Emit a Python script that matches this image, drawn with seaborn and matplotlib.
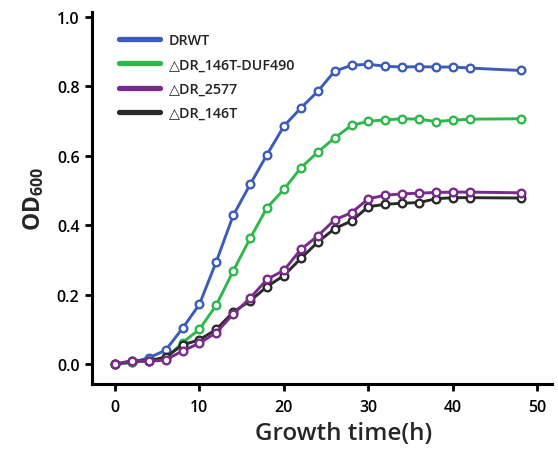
import matplotlib
matplotlib.use("Agg")
import matplotlib.pyplot as plt
from matplotlib.lines import Line2D
import numpy as np
import pandas as pd
import seaborn as sns

# tempos de medida (h)
hours = [0, 2, 4, 6, 8, 10, 12, 14, 16, 18, 20, 22, 24, 26, 28, 30, 32, 34, 36, 38, 40, 42, 48]

# OD600 de cada linhagem
drwt = [0.0, 0.005, 0.018, 0.04, 0.103, 0.172, 0.295, 0.428, 0.517, 0.603, 0.685, 0.737,
        0.785, 0.843, 0.860, 0.863, 0.857, 0.855, 0.856, 0.855, 0.855, 0.852, 0.845]
duf490 = [0.0, 0.005, 0.01, 0.016, 0.062, 0.10, 0.17, 0.268, 0.362, 0.45, 0.503, 0.565,
          0.61, 0.651, 0.687, 0.699, 0.703, 0.706, 0.705, 0.698, 0.702, 0.705, 0.706]
dr2577 = [0.0, 0.01, 0.008, 0.012, 0.038, 0.06, 0.091, 0.144, 0.19, 0.244, 0.27, 0.33,
          0.369, 0.415, 0.436, 0.476, 0.486, 0.49, 0.492, 0.494, 0.495, 0.495, 0.493]
dr146t = [0.0, 0.008, 0.01, 0.02, 0.055, 0.07, 0.10, 0.15, 0.182, 0.223, 0.255, 0.304,
          0.351, 0.39, 0.412, 0.453, 0.46, 0.463, 0.465, 0.476, 0.479, 0.479, 0.478]

names = ['DRWT', '\u25b3DR_146T-DUF490', '\u25b3DR_2577', '\u25b3DR_146T']
cores = ['#3b5cb8', '#2fb84a', '#7a2a8c', '#2a2a2a']
palette = dict(zip(names, cores))

# monta o dataframe longo
dataFrame = pd.DataFrame({
    'Tempo': hours * 4,
    'OD': drwt + duf490 + dr2577 + dr146t,
    'Cepa': sum([[n] * len(hours) for n in names], []),
})

sns.set_style('ticks')
plt.rcParams['font.family'] = ['Open Sans', 'DejaVu Sans']
plt.rcParams['mathtext.fontset'] = 'custom'
plt.rcParams['mathtext.rm'] = 'Open Sans:bold'
plt.rcParams['mathtext.bf'] = 'Open Sans:bold'

fig = plt.figure(figsize=(5.58, 4.52), dpi=100)
ax = fig.add_axes([0.165, 0.148, 0.824, 0.823])

# preto antes do roxo, para o roxo ficar por cima
ordem = [names[0], names[1], names[3], names[2]]
sns.lineplot(data=dataFrame, x='Tempo', y='OD', hue='Cepa', hue_order=ordem,
             palette=palette, marker='o', markersize=5.5, markerfacecolor='white',
             markeredgewidth=1.7, linewidth=2.1, legend=False, ax=ax)
for linha, nome in zip(ax.lines, ordem):
    linha.set_markeredgecolor(palette[nome])

ax.set_xlim(-2.7, 51.7)
ax.set_ylim(-0.0575, 1.013)
ax.set_xticks([0, 10, 20, 30, 40, 50])
ax.set_yticks([0.0, 0.2, 0.4, 0.6, 0.8, 1.0])
ax.yaxis.set_major_formatter(matplotlib.ticker.FormatStrFormatter('%.1f'))

for lado in ['top', 'right']:
    ax.spines[lado].set_visible(False)
for lado in ['left', 'bottom']:
    ax.spines[lado].set_linewidth(2.2)
    ax.spines[lado].set_color('black')
ax.tick_params(axis='both', direction='out', length=5, width=2, labelsize=11.5,
               colors='black')
ax.tick_params(axis='x', pad=6)
ax.tick_params(axis='y', pad=4)
for lab in ax.get_xticklabels() + ax.get_yticklabels():
    lab.set_fontweight('semibold')

ax.set_xlabel('Growth time(h)', fontsize=17.5, fontweight='semibold')
ax.xaxis.set_label_coords(0.548, -0.098)
ax.set_ylabel('OD$_{600}$', fontsize=16.5, fontweight='bold', labelpad=8)

handles = [Line2D([0], [0], color=palette[n], linewidth=3.8) for n in names]
leg = ax.legend(handles, names, loc='upper left', bbox_to_anchor=(0.03, 0.978), frameon=False,
                prop={'size': 10.3, 'weight': 'semibold'}, handlelength=2.9,
                handletextpad=0.6, labelspacing=0.72)
for t in leg.get_texts():
    t.set_color('#222222')

plt.savefig('out.png', dpi=100)
